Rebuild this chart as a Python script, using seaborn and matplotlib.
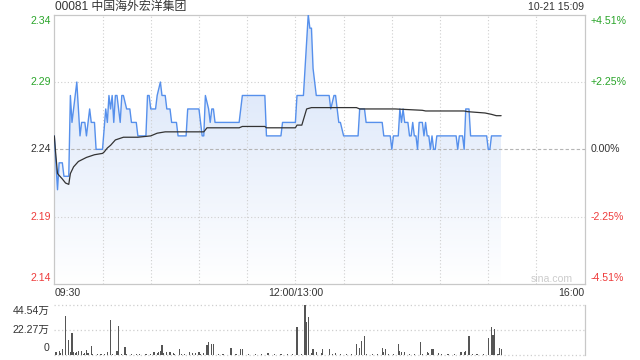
import numpy as np
import pandas as pd
import matplotlib
matplotlib.use("Agg")
import matplotlib.pyplot as plt
import matplotlib.transforms as mtrans
from matplotlib.colors import LinearSegmentedColormap
import seaborn as sns

# ---------------- data ----------------
title_text = "00081 中国海外宏洋集团"
stamp_text = "10-21 15:09"
prev_close = 2.24
price_ticks = [2.34, 2.29, 2.24, 2.19, 2.14]
pct_labels = ["+4.51%", "+2.25%", "0.00%", "-2.25%", "-4.51%"]
time_labels = ["09:30", "12:00/13:00", "16:00"]
time_label_pos = [0, 150, 330]          # minutes since open (trading minutes)
vol_ticks = [44.54, 22.27, 0]
vol_labels = ["44.54万", "22.27万", "0"]

price_min = [0, 2, 3, 5, 6, 9, 10, 11, 14, 16, 17, 19, 20, 22, 23, 25, 26, 30, 32, 33,
             34, 35, 36, 37, 38, 39, 41, 42, 43, 45, 47, 48, 51, 52, 57, 58, 59, 60, 63, 64,
             66, 67, 69, 70, 72, 73, 76, 77, 82, 83, 90, 92, 93, 94, 96, 97, 98, 99, 100, 115,
             117, 131, 132, 141, 142, 150, 151, 155, 158, 159, 160, 161, 163, 171, 172, 174, 175, 176, 177, 178,
             180, 189, 190, 193, 194, 204, 205, 209, 210, 211, 214, 215, 216, 217, 218, 220, 221, 222, 223, 224,
             225, 226, 227, 229, 230, 231, 232, 233, 234, 235, 236, 237, 238, 250, 251, 252, 254, 255, 256, 258,
             259, 269, 270, 271, 272, 278]
price_val = [2.25, 2.21, 2.23, 2.23, 2.22, 2.22, 2.28, 2.26, 2.29, 2.25, 2.26, 2.26, 2.25, 2.27, 2.26, 2.26, 2.24, 2.24, 2.27, 2.26,
             2.28, 2.27, 2.28, 2.26, 2.28, 2.28, 2.26, 2.28, 2.28, 2.27, 2.27, 2.26, 2.26, 2.25, 2.25, 2.28, 2.28, 2.27, 2.27, 2.28,
             2.29, 2.28, 2.28, 2.27, 2.27, 2.26, 2.26, 2.25, 2.25, 2.27, 2.27, 2.25, 2.25, 2.28, 2.27, 2.26, 2.27, 2.27, 2.26, 2.26,
             2.28, 2.28, 2.25, 2.25, 2.26, 2.26, 2.28, 2.28, 2.34, 2.33, 2.33, 2.30, 2.28, 2.28, 2.27, 2.28, 2.28, 2.27, 2.26, 2.26,
             2.25, 2.25, 2.27, 2.27, 2.26, 2.26, 2.25, 2.25, 2.24, 2.25, 2.25, 2.27, 2.26, 2.27, 2.26, 2.26, 2.25, 2.25, 2.26, 2.25,
             2.25, 2.24, 2.26, 2.26, 2.25, 2.26, 2.25, 2.25, 2.24, 2.25, 2.24, 2.24, 2.25, 2.25, 2.24, 2.25, 2.25, 2.24, 2.27, 2.27,
             2.25, 2.25, 2.24, 2.24, 2.25, 2.25]

avg_min = [0, 1, 2, 5, 7, 9, 10, 12, 15, 20, 25, 30, 31, 33, 35, 38, 43, 52, 60, 64,
           69, 93, 95, 115, 117, 131, 132, 150, 151, 154, 157, 160, 188, 190, 212, 229, 231, 255, 257, 268,
           272, 275, 278]
avg_val = [2.250, 2.235, 2.222, 2.218, 2.215, 2.214, 2.222, 2.227, 2.231, 2.234, 2.236, 2.237, 2.238, 2.241, 2.243, 2.247, 2.249, 2.249, 2.250, 2.252,
           2.253, 2.253, 2.256, 2.256, 2.257, 2.257, 2.256, 2.256, 2.258, 2.258, 2.270, 2.271, 2.271, 2.270, 2.270, 2.269, 2.2685, 2.2685, 2.268, 2.267,
           2.266, 2.265, 2.265]

vol_min = [1, 3, 4, 5, 7, 9, 10, 11, 12, 13, 14, 15, 17, 18, 19, 20, 21, 23, 24, 27,
           29, 31, 33, 35, 36, 39, 40, 42, 44, 45, 48, 51, 53, 57, 60, 62, 64, 65, 66, 67,
           68, 70, 72, 74, 75, 78, 79, 81, 84, 86, 88, 90, 91, 93, 95, 96, 98, 99, 102, 105,
           110, 113, 116, 117, 121, 125, 129, 133, 137, 141, 145, 148, 151, 154, 156, 157, 158, 160, 161, 163,
           166, 167, 171, 173, 175, 178, 182, 185, 188, 190, 191, 193, 194, 198, 201, 204, 205, 206, 208, 211,
           214, 215, 216, 218, 221, 224, 228, 229, 232, 233, 235, 236, 239, 241, 245, 249, 253, 255, 256, 258,
           260, 263, 267, 270, 272, 273, 274, 276, 277, 278]
vol_val = [2.4, 3.6, 1.8, 5.0, 35.0, 13.4, 2.4, 19.3, 3.0, 1.5, 2.4, 3.6, 3.6, 1.2, 1.8, 4.2, 1.5, 8.0, 1.2, 0.9,
           0.6, 0.9, 2.4, 31.2, 1.2, 3.6, 25.8, 0.9, 6.8, 0.9, 1.2, 0.9, 1.2, 0.9, 0.9, 2.4, 1.8, 3.0, 3.6, 8.9,
           1.5, 2.4, 2.4, 1.5, 1.2, 5.0, 0.9, 0.6, 3.0, 1.5, 1.5, 3.0, 1.2, 1.5, 8.9, 11.3, 9.5, 9.5, 0.9, 0.9,
           6.5, 0.9, 5.0, 5.0, 0.9, 0.9, 0.9, 1.5, 0.9, 0.9, 0.9, 0.9, 24.6, 0.9, 44.5, 29.0, 34.0, 1.5, 5.0, 2.4,
           1.5, 5.0, 5.0, 1.2, 1.5, 0.9, 0.6, 0.9, 9.8, 5.9, 12.5, 17.2, 0.9, 0.9, 0.9, 6.0, 2.4, 5.0, 0.9, 0.9,
           9.5, 3.9, 2.4, 2.4, 0.9, 0.9, 11.3, 0.9, 2.4, 1.5, 5.0, 5.0, 1.5, 0.9, 0.9, 0.9, 2.4, 2.4, 3.6, 17.0,
           0.9, 0.9, 0.9, 14.9, 25.2, 17.8, 23.2, 0.9, 6.0, 5.0]

# ---------------- style ----------------
sns.set_style("white")
plt.rcParams["font.family"] = ["Liberation Sans", "Noto Sans CJK SC"]

GREEN = "#2aa52a"
RED = "#ee3b3b"
TXT = "#333333"
GRID = "#cfcfcf"
SPINE = "#c8c8c8"
BLUE = "#5690ec"

fig = plt.figure(figsize=(6.4, 3.6), dpi=100)
W, H = 640.0, 360.0
L, R = 54.3, 584.7
ax = fig.add_axes([L / W, 1 - 284 / H, (R - L) / W, (284 - 14.7) / H])
axv = fig.add_axes([L / W, 1 - 355 / H, (R - L) / W, (355 - 305) / H])

# ---------------- price panel ----------------
pdf = pd.DataFrame({"m": price_min, "p": price_val})
adf = pd.DataFrame({"m": avg_min, "p": avg_val})

poly = ax.fill_between(pdf["m"], pdf["p"], price_ticks[-1], color="none", lw=0)
cmap = LinearSegmentedColormap.from_list("g", ["#ffffff", "#d3e1f8"])
grad = np.linspace(0, 1, 256).reshape(-1, 1)
im = ax.imshow(grad, cmap=cmap, aspect="auto", origin="lower",
               extent=[pdf["m"].min(), pdf["m"].max(), price_ticks[-1], price_ticks[0]],
               zorder=0.1, interpolation="bicubic")
im.set_clip_path(poly.get_paths()[0], transform=ax.transData)

sns.lineplot(data=pdf, x="m", y="p", ax=ax, color=BLUE, linewidth=1.0,
             sort=False, estimator=None, zorder=3)
sns.lineplot(data=adf, x="m", y="p", ax=ax, color="#333333", linewidth=0.9,
             sort=False, estimator=None, zorder=4)

ax.set_xlim(0, 330)
ax.set_ylim(price_ticks[-1], price_ticks[0])
ax.set_xticks(range(30, 330, 30))
ax.set_yticks([2.29, 2.19])
ax.set_axisbelow(True)
ax.tick_params(length=0, labelleft=False, labelbottom=False)
ax.grid(True, linestyle=(0, (1, 2)), color=GRID, linewidth=0.8)
ax.axhline(prev_close, color="#b5b5b5", linestyle=(0, (3, 2)), linewidth=0.8, zorder=2)
ax.set_xlabel("")
ax.set_ylabel("")
for s in ax.spines.values():
    s.set_color(SPINE)
    s.set_linewidth(0.9)

# left / right price labels
lcolors = [GREEN, GREEN, TXT, RED, RED]
offs = [-6, 0, 0, 0, 6]
for v, pl, c, o in zip(price_ticks, pct_labels, lcolors, offs):
    tl = mtrans.offset_copy(ax.get_yaxis_transform(), fig=fig, x=-3.5, y=o, units="dots")
    ax.text(0, v, f"{v:.2f}", transform=tl, ha="right", va="center",
            fontsize=7.6, color=c)
    tr = mtrans.offset_copy(ax.get_yaxis_transform(), fig=fig, x=5.5, y=o, units="dots")
    ax.text(1, v, pl, transform=tr, ha="left", va="center", fontsize=7.6, color=c)

# time labels
has = ["left", "center", "right"]
for lab, pos, ha in zip(time_labels, time_label_pos, has):
    tt = mtrans.offset_copy(ax.get_xaxis_transform(), fig=fig, x=0, y=-9, units="dots")
    ax.text(pos, 0, lab, transform=tt, ha=ha, va="center", fontsize=7.6, color=TXT)

# watermark
fig.text(573 / W, 1 - 279 / H, "sina.com", ha="right", va="center",
         fontsize=7.6, color="#cccccc")

# title + timestamp
fig.text(55 / W, 1 - 7 / H, title_text, ha="left", va="center", fontsize=8.6, color=TXT)
fig.text(584 / W, 1 - 7.5 / H, stamp_text, ha="right", va="center", fontsize=7.6, color=TXT)

# ---------------- volume panel ----------------
vdf = pd.DataFrame({"m": vol_min, "v": vol_val})
sns.barplot(data=vdf, x="m", y="v", ax=axv, native_scale=True, color="#555555",
            width=0.75, errorbar=None, saturation=1, linewidth=0)
for p in axv.patches:
    p.set_antialiased(False)
axv.set_xlim(0, 330)
axv.set_ylim(0, vol_ticks[0])
axv.set_xticks([])
axv.set_yticks([])
axv.set_xlabel("")
axv.set_ylabel("")
for v in vol_ticks:
    axv.axhline(v, color=GRID, linestyle=(0, (1, 2)), linewidth=0.9, zorder=0, clip_on=False)
for k in ["top", "bottom", "left"]:
    axv.spines[k].set_visible(False)
axv.spines["right"].set_color(SPINE)
axv.spines["right"].set_linewidth(0.9)
voffs = [-6, 0, 7]
for v, lab, o in zip(vol_ticks, vol_labels, voffs):
    tl = mtrans.offset_copy(axv.get_yaxis_transform(), fig=fig, x=-5, y=o, units="dots")
    axv.text(0, v, lab, transform=tl, ha="right", va="center", fontsize=7.6, color=TXT)

fig.savefig("out.png", dpi=100)
